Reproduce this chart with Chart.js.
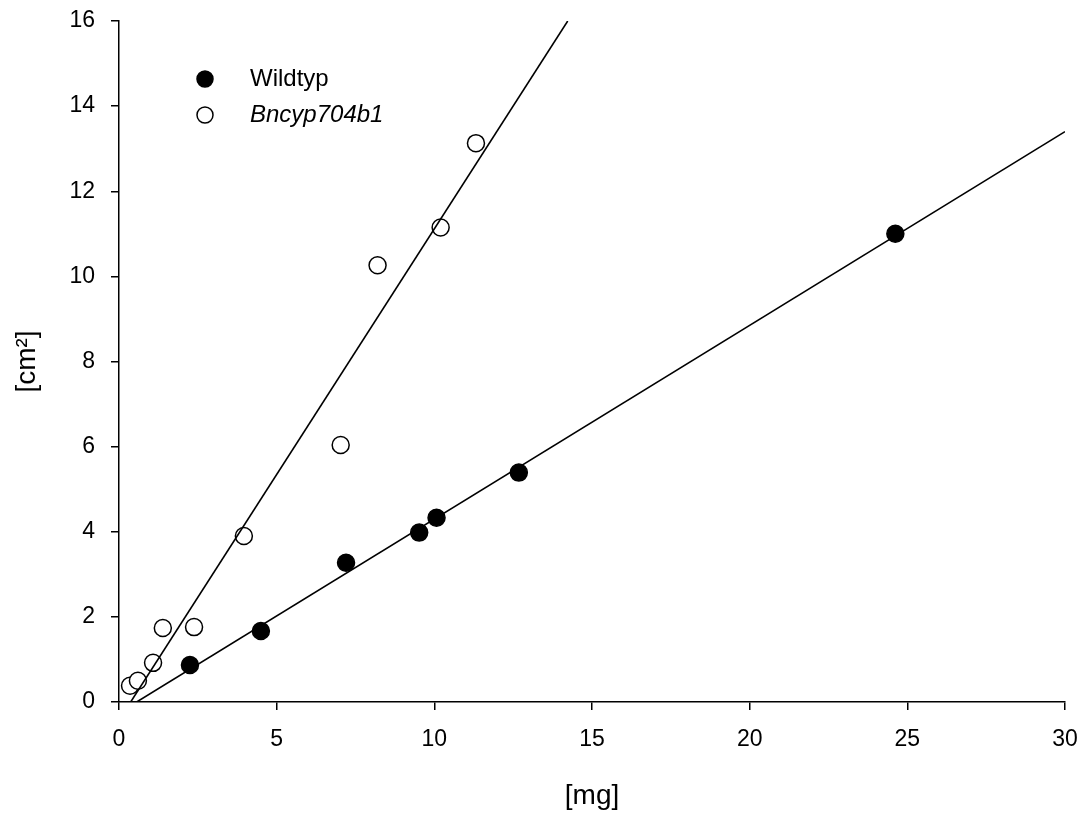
<!DOCTYPE html>
<html>
<head>
<meta charset="utf-8">
<script src="https://cdn.jsdelivr.net/npm/chart.js@4.4.1/dist/chart.umd.min.js"></script>
<style>
  html, body { margin: 0; padding: 0; background: #fff; }
  #wrap { width: 1084px; height: 813px; }
</style>
</head>
<body>
<div id="wrap"><canvas id="myChart"></canvas></div>
<script>
// measured samples: mass [mg] vs. area [cm²]
const wildX = [2.25, 4.5, 7.2, 9.52, 10.07, 12.68, 24.62];
const wildY = [0.87, 1.67, 3.27, 3.98, 4.33, 5.39, 11.0];

const mutX = [0.35, 0.6, 1.08, 1.39, 2.38, 3.96, 7.03, 8.2, 10.2, 11.32];
const mutY = [0.38, 0.5, 0.92, 1.74, 1.76, 3.9, 6.04, 10.26, 11.15, 13.13];

// linear fits, start and end points
const wildFitX = [0.56, 30];
const wildFitY = [0, 13.4];
const mutFitX = [0.37, 14.23];
const mutFitY = [0, 16];

const xTicks = [0, 5, 10, 15, 20, 25, 30];
const yTicks = [0, 2, 4, 6, 8, 10, 12, 14, 16];

const legendItems = [
  { label: 'Wildtyp', filled: true, italic: false },
  { label: 'Bncyp704b1', filled: false, italic: true }
];

const pts = (xs, ys) => xs.map((x, i) => ({ x: x, y: ys[i] }));
const FONT = 'Arial, "Liberation Sans", sans-serif';

// legend drawn inside the plot, top left
const insideLegend = {
  id: 'insideLegend',
  afterDraw(chart) {
    const ctx = chart.ctx;
    ctx.save();
    legendItems.forEach((item, i) => {
      const y = 79 + i * 36;
      ctx.beginPath();
      ctx.arc(205, y, 8, 0, Math.PI * 2);
      ctx.lineWidth = 1.5;
      ctx.strokeStyle = '#000';
      ctx.fillStyle = item.filled ? '#000' : '#fff';
      ctx.fill();
      ctx.stroke();
      ctx.fillStyle = '#000';
      ctx.font = (item.italic ? 'italic ' : '') + '24px ' + FONT;
      ctx.textBaseline = 'middle';
      ctx.textAlign = 'left';
      ctx.fillText(item.label, 250, y);
    });
    ctx.restore();
  }
};

new Chart(document.getElementById('myChart'), {
  type: 'scatter',
  data: {
    datasets: [
      {
        label: 'Wildtyp fit',
        data: pts(wildFitX, wildFitY),
        showLine: true,
        borderColor: '#000',
        borderWidth: 1.6,
        pointRadius: 0
      },
      {
        label: 'Bncyp704b1 fit',
        data: pts(mutFitX, mutFitY),
        showLine: true,
        borderColor: '#000',
        borderWidth: 1.6,
        pointRadius: 0
      },
      {
        label: 'Wildtyp',
        data: pts(wildX, wildY),
        pointRadius: 8.5,
        pointBackgroundColor: '#000',
        pointBorderColor: '#000',
        pointBorderWidth: 1.5
      },
      {
        label: 'Bncyp704b1',
        data: pts(mutX, mutY),
        pointRadius: 8.5,
        pointBackgroundColor: '#fff',
        pointBorderColor: '#000',
        pointBorderWidth: 1.5
      }
    ]
  },
  options: {
    responsive: true,
    maintainAspectRatio: false,
    animation: false,
    layout: { padding: { top: 21, right: 19, left: 0, bottom: 0 } },
    plugins: {
      legend: { display: false },
      tooltip: { enabled: false }
    },
    scales: {
      x: {
        type: 'linear',
        min: 0,
        max: 30,
        afterFit(scale) {
          scale.height = 111;
          scale.paddingLeft = 0;
          scale.paddingRight = 0;
        },
        afterBuildTicks(scale) { scale.ticks = xTicks.map(v => ({ value: v })); },
        border: { display: true, color: '#000', width: 1.5 },
        grid: { drawOnChartArea: false, drawTicks: true, tickLength: 8, color: '#000', lineWidth: 1.5 },
        ticks: { color: '#000', font: { family: FONT, size: 23 }, padding: 16, maxRotation: 0 },
        title: { display: true, text: '[mg]', color: '#000', font: { family: FONT, size: 28 }, padding: { top: 0, bottom: 0 } }
      },
      y: {
        type: 'linear',
        min: 0,
        max: 16,
        afterFit(scale) {
          scale.width = 119;
          scale.paddingTop = 0;
          scale.paddingBottom = 0;
        },
        afterBuildTicks(scale) { scale.ticks = yTicks.map(v => ({ value: v })); },
        border: { display: true, color: '#000', width: 1.5 },
        grid: { drawOnChartArea: false, drawTicks: true, tickLength: 8, color: '#000', lineWidth: 1.5 },
        ticks: { color: '#000', font: { family: FONT, size: 23 }, padding: 16 },
        title: { display: true, text: '[cm²]', color: '#000', font: { family: FONT, size: 28 }, padding: { top: 10, bottom: 0 } }
      }
    }
  },
  plugins: [insideLegend]
});
</script>
</body>
</html>
